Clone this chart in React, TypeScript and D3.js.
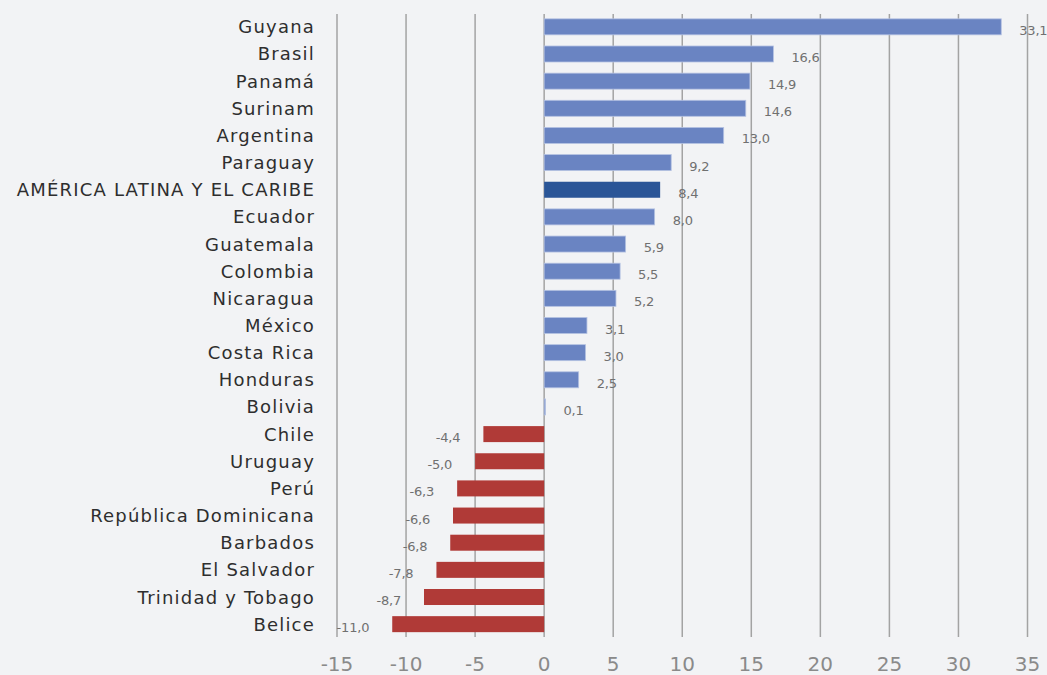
import React, { useEffect, useRef } from "react";
import * as d3 from "d3";

const categories = [
  "Guyana", "Brasil", "Panamá", "Surinam", "Argentina", "Paraguay",
  "AMÉRICA LATINA Y EL CARIBE", "Ecuador", "Guatemala", "Colombia", "Nicaragua",
  "México", "Costa Rica", "Honduras", "Bolivia", "Chile", "Uruguay", "Perú",
  "República Dominicana", "Barbados", "El Salvador", "Trinidad y Tobago", "Belice",
];
const values = [
  33.1, 16.6, 14.9, 14.6, 13.0, 9.2, 8.4, 8.0, 5.9, 5.5, 5.2, 3.1, 3.0, 2.5, 0.1,
  -4.4, -5.0, -6.3, -6.6, -6.8, -7.8, -8.7, -11.0,
];
const highlight = "AMÉRICA LATINA Y EL CARIBE";
const xTicks = [-15, -10, -5, 0, 5, 10, 15, 20, 25, 30, 35];

const W = 1047;
const H = 675;
const FONT = "'DejaVu Sans', sans-serif";

export default function App() {
  const ref = useRef<SVGSVGElement>(null);
  useEffect(() => {
    const svg = d3.select(ref.current);
    svg.selectAll("*").remove();
    svg.append("rect").attr("width", W).attr("height", H).attr("fill", "#f2f3f5");

    const x = d3.scaleLinear().domain([-15, 35]).range([337, 1027.5]);
    const y = d3.scaleBand<string>().domain(categories).range([13.4, 637.6]).paddingInner(0.41).paddingOuter(0.2);

    // gridlines
    svg.append("g").selectAll("line").data(xTicks).join("line")
      .attr("x1", (d) => x(d)).attr("x2", (d) => x(d))
      .attr("y1", 14).attr("y2", 637)
      .attr("stroke", "#a3a3a3").attr("stroke-width", 1.5);

    // tick labels
    svg.append("g").selectAll("text").data(xTicks).join("text")
      .attr("x", (d) => x(d)).attr("y", 671)
      .attr("text-anchor", "middle")
      .attr("font-family", FONT).attr("font-size", 20)
      .attr("fill", "#8a8a8a")
      .text((d) => (d < 0 ? "-" + Math.abs(d) : String(d)));

    const data = categories.map((c, i) => ({ c, v: values[i] }));
    const center = (c: string) => (y(c) as number) + y.bandwidth() / 2;

    // bars
    svg.append("g").selectAll("rect").data(data).join("rect")
      .attr("x", (d) => x(Math.min(0, d.v)))
      .attr("y", (d) => center(d.c) - 8)
      .attr("width", (d) => Math.abs(x(d.v) - x(0)))
      .attr("height", 16)
      .attr("fill", (d) => (d.c === highlight ? "#2a5597" : d.v < 0 ? "#b03a37" : "#6a84c2"))
      .attr("stroke", (d) => (d.v >= 0 && d.c !== highlight ? "#b5c2e2" : "none"))
      .attr("stroke-width", 0.8);

    // category labels
    svg.append("g").selectAll("text").data(data).join("text")
      .attr("x", 315).attr("y", (d) => center(d.c) + 6.5)
      .attr("text-anchor", "end")
      .attr("font-family", FONT).attr("font-size", 18)
      .attr("letter-spacing", 1.2)
      .attr("fill", "#2e2e2e")
      .text((d) => d.c);

    // value labels
    const fmt = (v: number) => (v < 0 ? "-" : "") + Math.abs(v).toFixed(1).replace(".", ",");
    svg.append("g").selectAll("text").data(data).join("text")
      .attr("x", (d) => (d.v >= 0 ? x(d.v) + 18 : x(d.v) - 23))
      .attr("y", (d) => center(d.c) + 8)
      .attr("text-anchor", (d) => (d.v >= 0 ? "start" : "end"))
      .attr("font-family", FONT).attr("font-size", 13)
      .attr("letter-spacing", -0.2)
      .attr("fill", "#707070")
      .text((d) => fmt(d.v));
  }, []);

  return (
    <div style={{ position: "fixed", left: 0, top: 0 }}>
      <svg ref={ref} width={W} height={H} style={{ display: "block" }} />
    </div>
  );
}
